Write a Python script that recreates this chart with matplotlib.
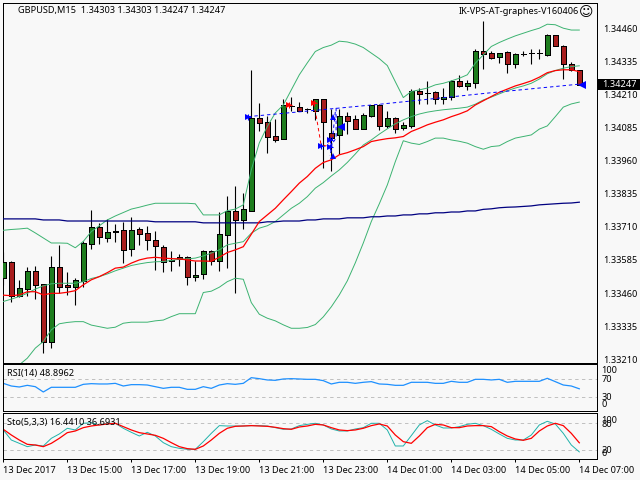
# GBPUSD M15 chart with bands, moving averages, RSI and stochastic panels

import numpy as np
import matplotlib
matplotlib.use("Agg")
import matplotlib.pyplot as plt

plt.rcParams["font.family"] = ["Noto Sans", "DejaVu Sans"]
plt.rcParams["font.size"] = 6.6
plt.rcParams["patch.antialiased"] = False

# Candles, prices in 1e-5
opens = [133515, 133577, 133450, 133477, 133543, 133493, 133274, 133558, 133490, 133484,
         133507, 133644, 133709, 133669, 133693, 133697, 133626, 133701, 133686, 133660,
         133633, 133580, 133595, 133595, 133520, 133531, 133620, 133580, 133681, 133770,
         133736, 133771, 134121, 134106, 134053, 134042, 134168, 134163, 134156, 134149,
         134193, 134065, 134058, 134129, 134118, 134081, 134129, 134170, 134092, 134121,
         134085, 134089, 134222, 134217, 134218, 134192, 134200, 134260, 134243, 134252,
         134374, 134366, 134351, 134371, 134324, 134364, 134367, 134367, 134360, 134434,
         134392, 134323, 134303]
closes = [133578, 133449, 133478, 133543, 133492, 133274, 133558, 133484, 133482, 133509,
          133648, 133709, 133671, 133690, 133691, 133622, 133697, 133682, 133660, 133637,
          133577, 133585, 133589, 133520, 133527, 133620, 133580, 133682, 133771, 133734,
          133778, 134121, 134103, 134051, 134036, 134170, 134166, 134149, 134154, 134193,
          134107, 134047, 134129, 134111, 134081, 134133, 134170, 134092, 134121, 134081,
          134095, 134221, 134212, 134215, 134192, 134200, 134261, 134243, 134254, 134374,
          134364, 134349, 134366, 134324, 134362, 134362, 134365, 134365, 134434, 134392,
          134323, 134304, 134247]
highs = [133615, 133581, 133510, 133558, 133563, 133493, 133600, 133642, 133540, 133518,
         133656, 133774, 133724, 133739, 133721, 133729, 133746, 133709, 133714, 133696,
         133642, 133619, 133608, 133600, 133580, 133623, 133623, 133766, 133827, 133865,
         133838, 134303, 134178, 134129, 134118, 134193, 134201, 134182, 134159, 134193,
         134193, 134155, 134155, 134144, 134133, 134141, 134170, 134174, 134148, 134125,
         134106, 134231, 134235, 134261, 134224, 134235, 134265, 134284, 134265, 134382,
         134488, 134374, 134367, 134374, 134367, 134374, 134382, 134382, 134439, 134434,
         134397, 134332, 134303]
lows = [133492, 133428, 133444, 133449, 133439, 133235, 133254, 133459, 133453, 133416,
        133482, 133628, 133646, 133653, 133653, 133575, 133598, 133643, 133623, 133547,
        133540, 133544, 133563, 133492, 133507, 133513, 133567, 133545, 133555, 133462,
        133703, 133771, 134073, 133990, 134032, 134042, 134149, 134148, 134141, 134114,
        133934, 133919, 133985, 134061, 134081, 134081, 134125, 134076, 134084, 134066,
        134076, 134085, 134174, 134174, 134174, 134174, 134189, 134238, 134227, 134235,
        134306, 134343, 134330, 134292, 134310, 134355, 134325, 134345, 134355, 134392,
        134269, 134300, 134247]

# Bollinger bands
bb_upper = [133697, 133700, 133702, 133705, 133687, 133668, 133649, 133649, 133648, 133631,
            133655, 133692, 133714, 133736, 133751, 133764, 133777, 133784, 133792, 133799,
            133799, 133799, 133799, 133799, 133797, 133755, 133755, 133755, 133771, 133777,
            133793, 133925, 134027, 134089, 134140, 134170, 134227, 134284, 134329, 134372,
            134387, 134396, 134411, 134408, 134400, 134387, 134366, 134345, 134319, 134258,
            134198, 134221, 134227, 134234, 134246, 134252, 134261, 134271, 134284, 134328,
            134359, 134391, 134406, 134419, 134431, 134441, 134451, 134460, 134475, 134473,
            134460, 134453, 134453]
bb_middle = [133428, 133437, 133447, 133459, 133475, 133487, 133495, 133497, 133497, 133497,
             133503, 133515, 133522, 133532, 133544, 133554, 133564, 133570, 133575, 133578,
             133579, 133583, 133588, 133589, 133592, 133600, 133611, 133623, 133642, 133648,
             133654, 133686, 133705, 133714, 133730, 133755, 133780, 133799, 133824, 133856,
             133877, 133902, 133925, 133953, 133985, 134019, 134038, 134060, 134080, 134099,
             134114, 134126, 134136, 134143, 134148, 134152, 134155, 134158, 134162, 134173,
             134189, 134200, 134212, 134224, 134234, 134242, 134252, 134268, 134288, 134300,
             134309, 134315, 134318]
bb_lower = [133132, 133162, 133189, 133214, 133252, 133277, 133321, 133344, 133349, 133352,
            133352, 133339, 133333, 133327, 133331, 133346, 133350, 133350, 133350, 133355,
            133358, 133371, 133382, 133382, 133382, 133462, 133467, 133482, 133503, 133516,
            133512, 133424, 133380, 133365, 133355, 133340, 133327, 133327, 133330, 133341,
            133370, 133408, 133453, 133506, 133574, 133649, 133730, 133797, 133868, 133956,
            134035, 134026, 134021, 134032, 134045, 134045, 134038, 134033, 134026, 134013,
            134003, 134013, 134016, 134032, 134045, 134051, 134057, 134079, 134091, 134126,
            134162, 134174, 134181]

# Moving averages
ma_fast = [133452, 133450, 133453, 133465, 133465, 133453, 133459, 133459, 133463, 133469,
           133491, 133510, 133522, 133537, 133554, 133558, 133573, 133585, 133592, 133595,
           133592, 133590, 133589, 133585, 133581, 133581, 133580, 133595, 133613, 133623,
           133635, 133682, 133730, 133755, 133780, 133812, 133843, 133875, 133900, 133931,
           133953, 133963, 133982, 133990, 134001, 134013, 134032, 134038, 134043, 134046,
           134051, 134070, 134082, 134095, 134105, 134114, 134126, 134136, 134148, 134170,
           134186, 134202, 134218, 134230, 134242, 134251, 134261, 134275, 134292, 134300,
           134303, 134303, 134296]
ma_slow = [133740, 133740, 133740, 133740, 133740, 133736, 133736, 133736, 133732, 133732,
           133732, 133732, 133732, 133732, 133732, 133732, 133732, 133732, 133732, 133729,
           133729, 133729, 133729, 133729, 133729, 133725, 133725, 133725, 133725, 133725,
           133725, 133725, 133725, 133729, 133729, 133732, 133732, 133732, 133736, 133736,
           133740, 133740, 133740, 133744, 133744, 133744, 133748, 133748, 133751, 133751,
           133755, 133755, 133759, 133759, 133763, 133763, 133766, 133766, 133770, 133770,
           133776, 133778, 133782, 133784, 133785, 133787, 133789, 133793, 133795, 133797,
           133799, 133800, 133803]

# Oscillators
rsi = [61, 55.1, 52.9, 56.6, 53.6, 41.8, 52.2, 52.2, 52.2, 52.2,
       58.8, 60.3, 59.6, 59.6, 61, 55.1, 58.1, 58.1, 57.3, 53.6,
       49.9, 52.2, 52.2, 47.7, 47.7, 53.6, 49.9, 57.3, 60.3, 58.8,
       61, 73.6, 71.4, 68.5, 67.7, 70.7, 71.4, 70.7, 69.9, 69.9,
       67, 59.6, 63.3, 63.3, 61, 63.3, 64.8, 59.6, 58.8, 56.6,
       56.6, 63.3, 63.3, 63.3, 61, 61, 65.5, 63.3, 63.3, 69.9,
       69.9, 68.5, 69.9, 63.3, 65.5, 65.5, 65.5, 65.5, 72.2, 64.8,
       57.3, 55.1, 48.9]
sto_main = [65.2, 42.9, 35.5, 28.1, 31.8, 29.6, 46.6, 56.3, 68.9, 65.2,
            80, 81.4, 76.3, 80, 80, 68.9, 60, 51.8, 60, 51.8,
            37, 28.1, 24.4, 22.2, 22.2, 39.2, 57.7, 74.8, 74, 74,
            74, 74.8, 74.8, 74, 70.3, 66.6, 67.4, 74.8, 77.7, 80,
            76.3, 67.4, 62.9, 62.9, 67.4, 70.3, 80, 80, 65.2, 29.6,
            29.6, 52.6, 76.3, 85.9, 76.3, 69.6, 69.6, 72.6, 77.7, 80,
            74.8, 66.6, 56.3, 46.6, 42.9, 42.9, 54, 76.3, 84.4, 78.5,
            57.7, 31.8, 16.44]
sto_signal = [66.6, 54, 42.9, 33.3, 31.8, 28.1, 35.5, 46.6, 59.2, 62.9,
              70.3, 74, 76.3, 78.5, 80, 72.6, 65.2, 59.2, 56.3, 53.3,
              46.6, 37, 28.1, 23.7, 22.2, 29.6, 42.9, 57.7, 68.9, 73.3,
              74, 74.8, 74, 73.3, 71.1, 68.1, 66.6, 71.8, 74, 77.7,
              76.3, 70.3, 65.2, 63.7, 65.2, 68.9, 74.8, 78.5, 74, 54,
              39.2, 35.5, 51.8, 70.3, 77.7, 76.3, 70.3, 70.3, 74, 74.8,
              74.8, 72.6, 61.4, 51.8, 45.2, 42.2, 46.6, 62.9, 74, 80,
              74.8, 57.7, 36.69]

# Signal lines and arrows (bar position, price in 1e-5)
blue_main_x = [30.6, 40.8, 47.1, 61.2, 72.1]
blue_main_y = [134126, 134155, 134173, 134217, 134249]
blue_zig1_x = [41.5, 41.0, 40.8]
blue_zig1_y = [134144, 134000, 133978]
blue_zig2_x = [41.6, 41.6, 40.8]
blue_zig2_y = [134159, 134045, 134011]
red_zig_x = [38.8, 39.2, 39.7, 40.3, 40.7]
red_zig_y = [134177, 134114, 134023, 134015, 134027]
right_blue_x = [30.6, 39.7, 40.8, 40.8]
right_blue_y = [134126, 134017, 134039, 134011]
up_blue_x = [41.2, 41.2]
up_blue_y = [134126, 133978]
left_blue_x = [42.2, 72.3]
left_blue_y = [134088, 134247]
red_arrow_x = [35.7, 38.8]
red_arrow_y = [134170, 134177]

price_ticks = [1.34460, 1.34335, 1.34210, 1.34085, 1.33960, 1.33835, 1.33710, 1.33585, 1.33460, 1.33335, 1.33210]
time_ticks = [0, 8, 16, 24, 32, 40, 48, 56, 64, 72]
time_labels = ["13 Dec 2017", "13 Dec 15:00", "13 Dec 17:00", "13 Dec 19:00", "13 Dec 21:00",
               "13 Dec 23:00", "14 Dec 01:00", "14 Dec 03:00", "14 Dec 05:00", "14 Dec 07:00"]

bg = "#F8F8F8"
W, H = 640.0, 480.0
THIN = 0.7
MID = 0.9


def panel(top, bottom):
    ax = fig.add_axes([2.5 / W, 1 - bottom / H, (597.3 - 2.5) / W, (bottom - top) / H], facecolor=bg)
    ax.set_xlim(-0.1, 74.25)
    ax.set_xticks([])
    ax.set_yticks([])
    for s in ax.spines.values():
        s.set_linewidth(0.72)
    return ax


def scale(vals):
    return np.array(vals) / 1e5


fig = plt.figure(figsize=(6.4, 4.8), dpi=100, facecolor=bg)

# Price panel
ax = panel(2.5, 362.7)
ax.set_ylim(1.33197, 1.34557)
bars = np.arange(len(opens))
o, c, h, l = scale(opens), scale(closes), scale(highs), scale(lows)
up = c >= o
ax.vlines(bars, l, h, color="black", lw=0.8, zorder=2)
ax.bar(bars, np.abs(c - o), bottom=np.minimum(o, c), width=0.56,
       color=np.where(up, "#1E7D1E", "#A81E1E"), edgecolor="black", linewidth=0.72, zorder=3)

band_color = "#3CB371"
ax.plot(bars, scale(bb_upper), color=band_color, lw=THIN, zorder=4)
ax.plot(bars, scale(bb_middle), color=band_color, lw=THIN, zorder=4)
ax.plot(bars, scale(bb_lower), color=band_color, lw=THIN, zorder=4)
ax.plot(bars, scale(ma_slow), color="#000080", lw=MID, zorder=4)
ax.plot(bars, scale(ma_fast), color="#FF0000", lw=MID, zorder=5)

dash = (0, (3.5, 3))
ax.plot(blue_main_x, scale(blue_main_y), color="#0000FF", lw=THIN, ls=dash, zorder=6)
ax.plot(blue_zig1_x, scale(blue_zig1_y), color="#0000FF", lw=THIN, ls=dash, zorder=6)
ax.plot(blue_zig2_x, scale(blue_zig2_y), color="#0000FF", lw=THIN, ls=dash, zorder=6)
ax.plot(red_zig_x, scale(red_zig_y), color="#FF0000", lw=THIN, ls=dash, zorder=6)

ax.plot(right_blue_x, scale(right_blue_y), ">", color="#0000FF", ms=4.5, mew=0, zorder=7)
ax.plot(right_blue_x, scale(right_blue_y), "+", color="#0000FF", ms=4, mew=0.8, zorder=7)
ax.plot(up_blue_x, scale(up_blue_y), "^", color="#0000FF", ms=5, mew=0, zorder=7)
ax.plot(left_blue_x, scale(left_blue_y), "<", color="#0000FF", ms=6, mew=0, zorder=7)
ax.plot(red_arrow_x, scale(red_arrow_y), ">", color="#FF0000", ms=4.5, mew=0, zorder=7)
ax.plot(red_arrow_x, scale(red_arrow_y), "+", color="#FF0000", ms=4, mew=0.8, zorder=7)

ax.yaxis.tick_right()
ax.set_yticks(price_ticks)
ax.set_yticklabels([f"{p:.5f}" for p in price_ticks])
ax.tick_params(axis="y", length=0, pad=4)

ax.text(18 / W, 1 - 10.5 / H, "GBPUSD,M15  1.34303 1.34303 1.34247 1.34247",
        transform=fig.transFigure, va="center", ha="left")
ax.text(579 / W, 1 - 12 / H, "IK-VPS-AT-graphes-V160406",
        transform=fig.transFigure, va="center", ha="right")
ax.text(586.5 / W, 1 - 12 / H, "\u263a", transform=fig.transFigure, va="center", ha="center",
        family="DejaVu Sans", fontsize=10)

# Last price box
fig.patches.append(plt.Rectangle((598 / W, 1 - 90 / H), 42 / W, 11 / H, transform=fig.transFigure,
                                 fc="black", ec="none", zorder=5))
fig.text(619 / W, 1 - 84.5 / H, "1.34247", va="center", ha="center", color="white", zorder=6)


def side_label(a, value, text, shift):
    a.annotate(text, xy=(1, value), xycoords=("axes fraction", "data"),
               xytext=(4, shift), textcoords="offset pixels", va="center", ha="left",
               annotation_clip=False)


# RSI panel
ax_rsi = panel(364.3, 411.3)
ax_rsi.set_ylim(-1.1, 103.3)
for lv in [70, 30]:
    ax_rsi.axhline(lv, color="#C0C0C0", lw=THIN, ls=(0, (3.5, 3.5)))
ax_rsi.plot(bars, rsi, color="#1E90FF", lw=MID)
ax_rsi.text(7 / W, 1 - 373.5 / H, "RSI(14) 48.8962", transform=fig.transFigure, va="center")
side_label(ax_rsi, 100, "100", -5)
side_label(ax_rsi, 70, "70", 0)
side_label(ax_rsi, 30, "30", 0)
side_label(ax_rsi, 0, "0", 6)

# Stochastic panel
ax_sto = panel(413.3, 459.0)
ax_sto.set_ylim(0.7, 102.2)
for lv in [80, 20]:
    ax_sto.axhline(lv, color="#C0C0C0", lw=THIN, ls=(0, (3.5, 3.5)))
ax_sto.plot(bars, sto_main, color="#20B2AA", lw=THIN)
ax_sto.plot(bars, sto_signal, color="#FF0000", lw=MID)
ax_sto.text(7 / W, 1 - 423 / H, "Sto(5,3,3) 16.4410 36.6931", transform=fig.transFigure, va="center")
side_label(ax_sto, 100, "100", -6)
side_label(ax_sto, 80, "80", -1)
side_label(ax_sto, 20, "20", 0)
side_label(ax_sto, 0, "0", 6)

ax_sto.set_xticks(time_ticks)
ax_sto.set_xticklabels(time_labels, ha="left")
ax_sto.tick_params(axis="x", length=2.2, width=0.72, pad=2.5)

fig.savefig("out.png", dpi=100, facecolor=bg)
